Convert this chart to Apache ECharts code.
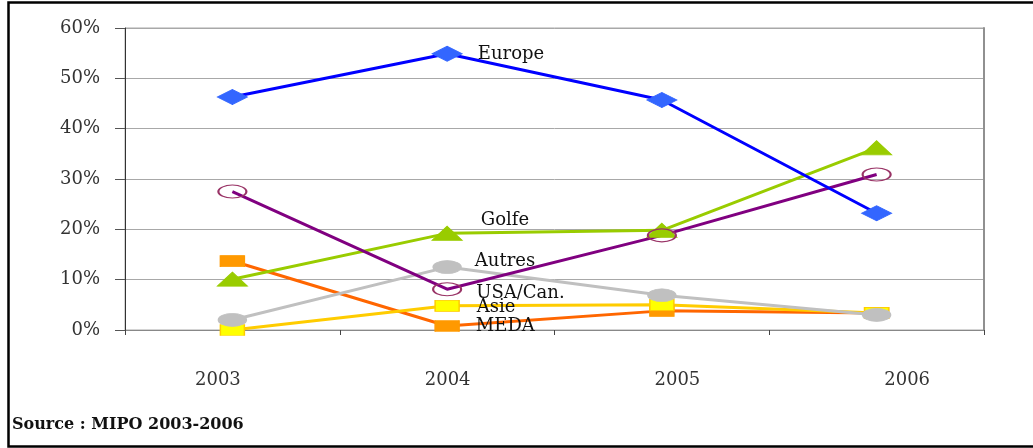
<!DOCTYPE html>
<html>
<head>
<meta charset="utf-8">
<script src="https://cdn.jsdelivr.net/npm/echarts@6/dist/echarts.min.js"></script>
<style>
html,body{margin:0;padding:0;background:#fff;}
#chart{width:1033px;height:448px;}
</style>
</head>
<body>
<div id="chart"></div>
<script>
// ---- data ----
var years = ['2003', '2004', '2005', '2006'];
var seriesNames = ['MEDA', 'Asie', 'Autres', 'Golfe', 'USA/Can.', 'Europe'];
var meda   = [0.137, 0.008, 0.038, 0.034];
var asie   = [0.000, 0.048, 0.050, 0.034];
var autres = [0.020, 0.125, 0.069, 0.030];
var golfe  = [0.101, 0.192, 0.198, 0.362];
var usaCan = [0.275, 0.081, 0.188, 0.309];
var europe = [0.463, 0.549, 0.457, 0.232];
var yTicks = [0, 0.1, 0.2, 0.3, 0.4, 0.5, 0.6];
var sourceText = 'Source : MIPO 2003-2006';

// ---- styles ----
var serif = 'DejaVu Serif';
var styles = {
  'MEDA':     {line:'#FF6600', fill:'#FF9900', border:'#FF9900', symbol:'rect',    size:[24,11], off:[16,0]},
  'Asie':     {line:'#FFCC00', fill:'#FFFF00', border:'#FFCC00', symbol:'rect',    size:[24,11], off:[17,1]},
  'Autres':   {line:'#C0C0C0', fill:'#C0C0C0', border:'#C0C0C0', symbol:'circle',  size:[28,13], off:[13,-6]},
  'Golfe':    {line:'#99CC00', fill:'#99CC00', border:'#99CC00', symbol:'triangle',size:[30,14], off:[18,-13]},
  'USA/Can.': {line:'#800080', fill:'rgba(0,0,0,0)', border:'#993366', symbol:'circle', size:[28,13], off:[14,4]},
  'Europe':   {line:'#0000FF', fill:'#3366FF', border:'#3366FF', symbol:'diamond', size:[30,15], off:[15,1]}
};
var values = {'MEDA':meda, 'Asie':asie, 'Autres':autres, 'Golfe':golfe, 'USA/Can.':usaCan, 'Europe':europe};
var labelIndex = 1; // labels placed next to the 2004 point

var series = seriesNames.map(function (name) {
  var s = styles[name];
  var data = values[name].map(function (v, i) {
    if (i !== labelIndex) return v;
    return {
      value: v,
      label: {
        show: true, position: 'right', distance: 0, offset: s.off,
        formatter: name, fontFamily: serif, fontSize: 18, color: '#111'
      }
    };
  });
  return {
    name: name, type: 'line', xAxisIndex: 0, yAxisIndex: 0,
    data: data,
    symbol: s.symbol, symbolSize: s.size,
    lineStyle: {color: s.line, width: 3},
    itemStyle: {color: s.fill, borderColor: s.border, borderWidth: name === 'USA/Can.' ? 1.5 : 1},
    emphasis: {disabled: true},
    silent: true
  };
});

var chart = echarts.init(document.getElementById('chart'));
chart.setOption({
  animation: false,
  backgroundColor: '#fff',
  grid: [
    {left: 125, right: 49, top: 28, bottom: 118, show: true, borderColor: '#A8A8A8', borderWidth: 1},
    {left: 103, right: 11, top: 28, bottom: 118}
  ],
  xAxis: [
    {
      type: 'category', gridIndex: 0, data: years, boundaryGap: true,
      axisLine: {show: true, lineStyle: {color: '#888', width: 1}},
      axisTick: {show: true, length: 5, lineStyle: {color: '#444'}},
      axisLabel: {show: false},
      splitLine: {show: false}
    },
    {
      type: 'category', gridIndex: 1, data: years, boundaryGap: true,
      axisLine: {show: false}, axisTick: {show: false},
      axisLabel: {show: true, margin: 41, fontFamily: serif, fontSize: 18, color: '#333'},
      splitLine: {show: false}
    }
  ],
  yAxis: [
    {
      type: 'value', gridIndex: 0, min: yTicks[0], max: yTicks[yTicks.length - 1], interval: 0.1,
      axisLine: {show: true, lineStyle: {color: '#333', width: 1}},
      axisTick: {show: true, length: 10, lineStyle: {color: '#555'}},
      axisLabel: {
        margin: 25, fontFamily: serif, fontSize: 18, color: '#333',
        formatter: function (v) { return Math.round(v * 100) + '%'; }
      },
      splitLine: {show: true, lineStyle: {color: '#A8A8A8', width: 1}}
    },
    {
      type: 'value', gridIndex: 0, position: 'right', min: 0, max: 0.6, interval: 0.1,
      axisLine: {show: true, lineStyle: {color: '#909090', width: 2}},
      axisTick: {show: false}, axisLabel: {show: false}, splitLine: {show: false}
    },
    {
      type: 'value', gridIndex: 1, show: false, min: 0, max: 0.6
    }
  ],
  graphic: [
    {
      type: 'rect', left: 6, top: 0, z: 100, silent: true,
      shape: {x: 0, y: 0, width: 1040, height: 444},
      style: {fill: 'none', stroke: '#000', lineWidth: 2.5}
    },
    {
      type: 'text', left: 12, top: 417, z: 100, silent: true,
      style: {text: sourceText, font: 'bold 16px "DejaVu Serif"', fill: '#111'}
    }
  ],
  series: series
});
</script>
</body>
</html>
